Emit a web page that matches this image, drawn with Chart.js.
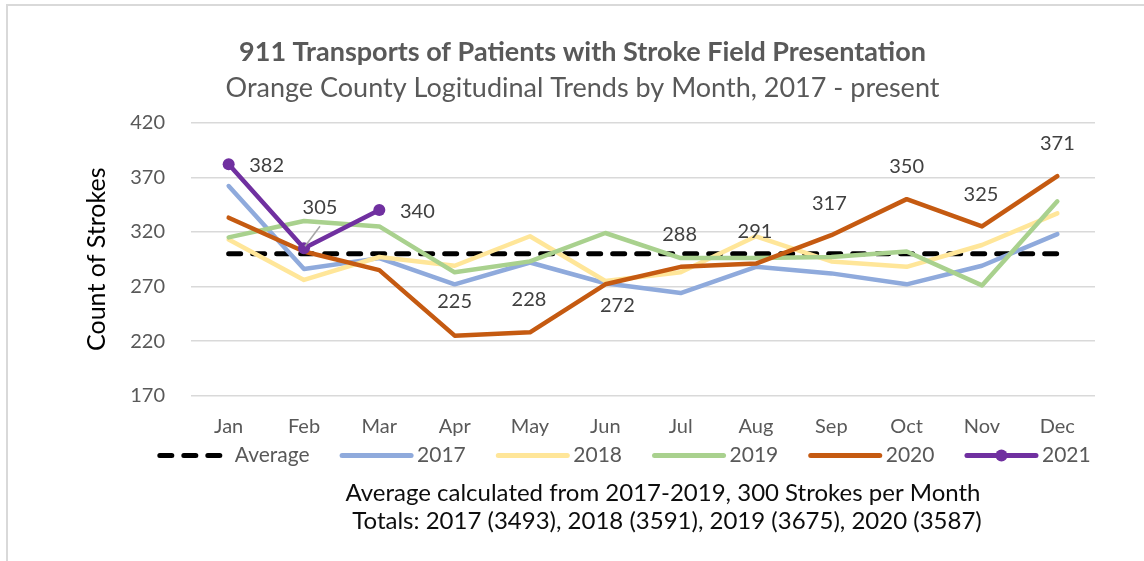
<!DOCTYPE html>
<html>
<head>
<meta charset="utf-8">
<script src="https://cdn.jsdelivr.net/npm/chart.js@4.4.0/dist/chart.umd.min.js"></script>
<style>
html,body{margin:0;padding:0;background:#fff;}
#wrap{width:1144px;height:561px;position:relative;}
</style>
</head>
<body>
<div id="wrap"><canvas id="c" width="1144" height="561"></canvas></div>
<script>
// ---------- data ----------
const months = ['Jan','Feb','Mar','Apr','May','Jun','Jul','Aug','Sep','Oct','Nov','Dec'];
const averageValues = [300,300,300,300,300,300,300,300,300,300,300,300];
const values2017 = [362,286,296,272,292,273,264,288,282,272,289,318];
const values2018 = [313,276,297,289,316,275,283,316,293,288,308,337];
const values2019 = [315,330,325,283,293,319,296,296,297,302,271,348];
const values2020 = [333,302,285,225,228,272,288,291,317,350,325,371];
const values2021 = [382,305,340];
const yTicks = [170,220,270,320,370,420];
const titleText = '911 Transports of Patients with Stroke Field Presentation';
const subtitleText = 'Orange County Logitudinal Trends by Month, 2017 - present';
const footerLines = ['Average calculated from 2017-2019, 300 Strokes per Month',
                     'Totals: 2017 (3493), 2018 (3591), 2019 (3675), 2020 (3587)'];

const FONT = 'Lato, "Open Sans", "Liberation Sans", sans-serif';
const GREY = '#595959';

// ---------- plugins ----------
const backgroundPlugin = {
  id: 'bgFrame',
  beforeDraw(chart) {
    const ctx = chart.ctx;
    ctx.save();
    ctx.fillStyle = '#fff';
    ctx.fillRect(0, 0, chart.width, chart.height);
    ctx.strokeStyle = '#d9d9d9';
    ctx.lineWidth = 2;
    ctx.strokeRect(7, 5, chart.width + 20, chart.height + 20);
    ctx.restore();
  }
};

const legendShiftPlugin = {
  id: 'legendShift',
  afterLayout(chart, args, opts) {
    const L = chart.legend;
    if (!L) return;
    const shift = opts.center - (L.left + L.right) / 2;
    L.left += shift;
    L.right += shift;
    const dy = opts.top - L.top;
    L.top += dy;
    L.bottom += dy;
  }
};

const legendSymbolsPlugin = {
  id: 'legendSymbols',
  afterDraw(chart) {
    const L = chart.legend;
    if (!L || !L.legendHitBoxes) return;
    const ctx = chart.ctx;
    const bw = L.options.labels.boxWidth;
    L.legendHitBoxes.forEach((hb, i) => {
      const ds = chart.data.datasets[i];
      const y = hb.top + hb.height / 2 + 0.5;
      ctx.save();
      ctx.strokeStyle = ds.borderColor;
      ctx.lineWidth = 5;
      ctx.lineCap = 'round';
      ctx.setLineDash(ds.borderDash || []);
      ctx.beginPath();
      ctx.moveTo(hb.left + 2.5, y);
      ctx.lineTo(hb.left + bw + 4.5, y);
      ctx.stroke();
      if (ds.pointRadius > 0) {
        ctx.setLineDash([]);
        ctx.fillStyle = ds.borderColor;
        ctx.beginPath();
        ctx.arc(hb.left + (bw + 7) / 2, y, ds.pointRadius, 0, Math.PI * 2);
        ctx.fill();
      }
      ctx.restore();
    });
  }
};

const pointLabelPlugin = {
  id: 'pointLabels',
  afterDatasetsDraw(chart, args, opts) {
    const ctx = chart.ctx;
    ctx.save();
    opts.items.forEach(it => {
      const el = chart.getDatasetMeta(it.ds).data[it.idx];
      if (!el) return;
      const val = chart.data.datasets[it.ds].data[it.idx];
      if (it.leader) {
        ctx.strokeStyle = '#a6a6a6';
        ctx.lineWidth = 1.5;
        ctx.beginPath();
        ctx.moveTo(el.x + 1, el.y - 2);
        ctx.lineTo(el.x + 16, el.y - 22);
        ctx.stroke();
      }
      ctx.font = opts.size + 'px ' + FONT;
      ctx.fillStyle = opts.color;
      ctx.textAlign = 'center';
      ctx.textBaseline = 'middle';
      ctx.fillText(String(val), el.x + it.dx, el.y + it.dy);
    });
    ctx.restore();
  }
};

const footerPlugin = {
  id: 'footerText',
  afterDraw(chart, args, opts) {
    const ctx = chart.ctx;
    ctx.save();
    ctx.font = opts.size + 'px ' + FONT;
    ctx.fillStyle = opts.color;
    ctx.textAlign = 'center';
    ctx.textBaseline = 'middle';
    opts.lines.forEach((t, i) => ctx.fillText(t, opts.x + (i ? 4 : 0), opts.y + i * opts.gap));
    ctx.restore();
  }
};

// ---------- chart ----------
const line = (label, data, color, order, extra) => Object.assign({
  label, data, borderColor: color, backgroundColor: color,
  borderWidth: 4.5, pointRadius: 0, pointHoverRadius: 0, tension: 0,
  borderJoinStyle: 'round', borderCapStyle: 'round', fill: false, order
}, extra || {});

new Chart(document.getElementById('c'), {
  type: 'line',
  data: {
    labels: months,
    datasets: [
      line('Average', averageValues, '#000000', 6, {borderDash: [12, 12], borderWidth: 5}),
      line('2017', values2017, '#8faadc', 5),
      line('2018', values2018, '#ffe699', 4),
      line('2019', values2019, '#a9d18e', 3),
      line('2020', values2020, '#c55a11', 2),
      line('2021', values2021, '#7030a0', 1, {pointRadius: 6, pointBackgroundColor: '#7030a0', pointBorderWidth: 0})
    ]
  },
  options: {
    responsive: false,
    animation: false,
    devicePixelRatio: 1,
    events: [],
    layout: { padding: { left: 70, right: 49, top: 0, bottom: 62.3 } },
    scales: {
      x: {
        offset: true,
        grid: { display: false, drawTicks: false },
        border: { display: false },
        ticks: { color: GREY, font: { family: FONT, size: 20 }, padding: 18.5, maxRotation: 0, autoSkip: false },
        afterFit(s) { s.height = 42; }
      },
      y: {
        min: 170, max: 420,
        afterBuildTicks(s) { s.ticks = yTicks.map(v => ({ value: v })); },
        grid: { color: '#d9d9d9', lineWidth: 1.5, drawTicks: false },
        border: { display: false },
        ticks: { color: GREY, font: { family: FONT, size: 20 }, padding: 26 },
        title: { display: true, text: 'Count of Strokes', color: '#000', font: { family: FONT, size: 25 }, padding: { top: 12, bottom: 0 } },
        afterFit(s) { s.width = 121; }
      }
    },
    plugins: {
      title: {
        display: true, text: titleText, color: GREY,
        font: { family: FONT, size: 27, weight: 'bold', lineHeight: 1.2 },
        padding: { top: 35.8, bottom: 0 }
      },
      subtitle: {
        display: true, text: subtitleText, color: GREY,
        font: { family: FONT, size: 27, lineHeight: 1.2 },
        padding: { top: 3.6, bottom: 18.5 }
      },
      legend: {
        position: 'bottom',
        align: 'center',
        labels: {
          boxWidth: 67, boxHeight: 0, padding: 30,
          color: GREY, font: { family: FONT, size: 21 },
          generateLabels(chart) {
            return chart.data.datasets.map((ds, i) => ({
              text: ds.label, datasetIndex: i,
              fillStyle: 'rgba(0,0,0,0)', strokeStyle: 'rgba(0,0,0,0)', lineWidth: 0,
              fontColor: GREY, hidden: false
            }));
          }
        }
      },
      legendShift: { center: 624, top: 414.5 },
      tooltip: { enabled: false },
      pointLabels: {
        size: 20, color: '#404040',
        items: [
          { ds: 5, idx: 0, dx: 38, dy: 1 },
          { ds: 5, idx: 1, dx: 16, dy: -41, leader: true },
          { ds: 5, idx: 2, dx: 38, dy: 1 },
          { ds: 4, idx: 3, dx: 0, dy: -34 },
          { ds: 4, idx: 4, dx: -1, dy: -33 },
          { ds: 4, idx: 5, dx: 12, dy: 21 },
          { ds: 4, idx: 6, dx: -1, dy: -32 },
          { ds: 4, idx: 7, dx: -1, dy: -32 },
          { ds: 4, idx: 8, dx: -2, dy: -32 },
          { ds: 4, idx: 9, dx: 0, dy: -33 },
          { ds: 4, idx: 10, dx: -1, dy: -32 },
          { ds: 4, idx: 11, dx: 0, dy: -33 }
        ]
      },
      footerText: { lines: footerLines, x: 663, y: 493, gap: 28, size: 24, color: '#0d0d0d' }
    }
  },
  plugins: [backgroundPlugin, legendShiftPlugin, legendSymbolsPlugin, pointLabelPlugin, footerPlugin]
});
</script>
</body>
</html>
